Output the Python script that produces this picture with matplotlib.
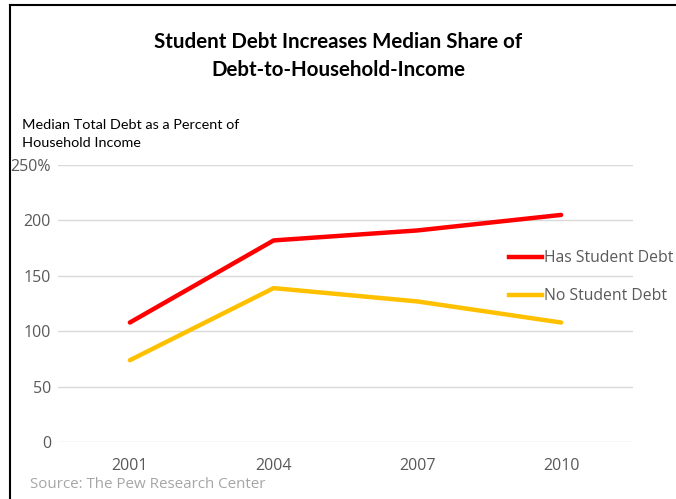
import matplotlib
matplotlib.use('Agg')
import matplotlib.pyplot as plt
from matplotlib.lines import Line2D

plt.rcParams['font.family'] = ['Lato', 'DejaVu Sans']
SEGOE = ['Open Sans', 'DejaVu Sans']

# data
years = ['2001', '2004', '2007', '2010']
has_debt = [108, 182, 191, 205]
no_debt = [74, 139, 127, 108]
y_ticks = [0, 50, 100, 150, 200, 250]
y_tick_labels = ['0', '50', '100', '150', '200', '250%']

RED = '#FF0000'
GOLD = '#FFC000'
GRID = '#D9D9D9'
TICK = '#595959'

fig = plt.figure(figsize=(6.76, 4.99), dpi=100)
ax = fig.add_axes([58 / 676, 1 - 442.3 / 499, 575 / 676, 277.3 / 499])

x = range(len(years))
ax.plot(x, has_debt, color=RED, lw=3.2, solid_capstyle='round', zorder=3)
ax.plot(x, no_debt, color=GOLD, lw=3.2, solid_capstyle='round', zorder=3)

ax.set_xlim(-0.5, len(years) - 0.5)
ax.set_ylim(0, 250)
ax.set_yticks(y_ticks)
ax.set_yticklabels(y_tick_labels, family=SEGOE)
ax.set_xticks(list(x))
ax.set_xticklabels(years, family=SEGOE)
ax.yaxis.grid(True, color=GRID, lw=1)
ax.set_axisbelow(True)
for s in ax.spines.values():
    s.set_visible(False)
ax.tick_params(axis='both', length=0, labelsize=11.5, labelcolor=TICK)
ax.tick_params(axis='y', pad=5)
ax.tick_params(axis='x', pad=11)

# legend placed to the right, as in the original
handles = [Line2D([], [], color=RED, lw=3.2), Line2D([], [], color=GOLD, lw=3.2)]
fig.legend(handles, ['Has Student Debt', 'No Student Debt'],
           loc='upper left', bbox_to_anchor=(503 / 676, 1 - 244 / 499),
           frameon=False, prop={'family': SEGOE, 'size': 11.3}, labelcolor=TICK,
           handlelength=2.1, handletextpad=0.1, labelspacing=1.4,
           borderaxespad=0)

fig.text(338 / 676, 1 - 42 / 499, 'Student Debt Increases Median Share of',
         ha='center', va='center', fontsize=14.8, fontweight='bold', color='black')
fig.text(338 / 676, 1 - 70 / 499, 'Debt-to-Household-Income',
         ha='center', va='center', fontsize=14.8, fontweight='bold', color='black')
fig.text(22 / 676, 1 - 125 / 499, 'Median Total Debt as a Percent of',
         ha='left', va='center', fontsize=10.4, color='black')
fig.text(22 / 676, 1 - 143 / 499, 'Household Income',
         ha='left', va='center', fontsize=10.4, color='black')
fig.text(30 / 676, 1 - 484 / 499, 'Source: The Pew Research Center',
         ha='left', va='center', fontsize=10.9, color='#A6A6A6', family=SEGOE)

# screenshot frame (top and left edges)
fig.add_artist(Line2D([9.5 / 676, 9.5 / 676], [0, 1 - 5 / 499], color='black', lw=1.5))
fig.add_artist(Line2D([9.5 / 676, 1], [1 - 5 / 499, 1 - 5 / 499], color='black', lw=1.5))

fig.savefig('out.png', dpi=100)
